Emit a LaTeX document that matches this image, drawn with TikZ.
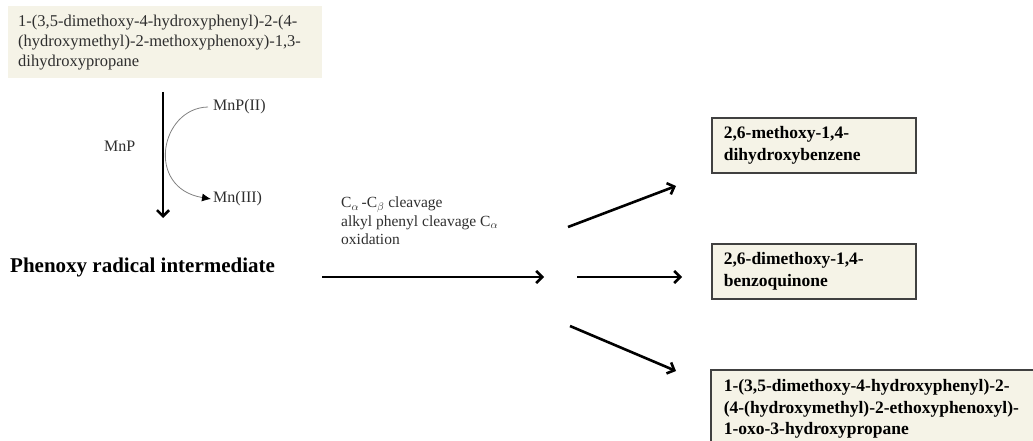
\documentclass[tikz,border=0pt]{standalone}
\usepackage{fontspec}
\setmainfont{Liberation Serif}
\usetikzlibrary{arrows.meta}

\definecolor{boxfill}{HTML}{F5F3E7}
\definecolor{labgray}{HTML}{2E2E2E}

\tikzset{
  prodbox/.style={draw=black!75, line width=1.6pt, fill=boxfill, anchor=north west,
    align=left, text width=180pt, inner xsep=12pt, inner ysep=9pt,
    font=\fontsize{17.5}{21.5}\selectfont\bfseries},
  mainarrow/.style={line width=2.6pt, -{Straight Barb[length=6pt,width=12pt]}},
  enzlabel/.style={anchor=west, inner sep=0pt, font=\fontsize{16}{19}\selectfont, text=labgray}
}

\begin{document}
\begin{tikzpicture}[x=1pt,y=-1pt]
  \clip (0,0) rectangle (1033,441);

  % substrate
  \node[fill=boxfill, anchor=north west, align=left, text width=294pt, inner xsep=10pt,
        inner ysep=6pt, minimum height=72pt, font=\fontsize{16.5}{20}\selectfont, text=labgray]
    (src) at (8,6) {1-(3,5-dimethoxy-4-hydroxyphenyl)-2-(4-\\(hydroxymethyl)-2-methoxyphenoxy)-1,3-\\dihydroxypropane};

  % MnP step
  \coordinate (vtop) at (163,92);
  \coordinate (vbot) at (163,218);
  \draw[mainarrow] (vtop) -- (vbot);
  \node[enzlabel] (mnp) at (104,146) {MnP};
  \node[enzlabel] (mnpii) at (213,107) {MnP(II)};
  \node[enzlabel] (mniii) at (213,199) {Mn(III)};
  \draw[gray, line width=0.8pt, -{Latex[black,length=9pt,width=8pt]}]
    ([xshift=-5pt]mnpii.west) .. controls (160,108) and (145,188) .. ([xshift=-2pt]mniii.west);

  \node[anchor=west, inner sep=0pt, font=\fontsize{21}{24}\selectfont\bfseries] (phenoxy) at (10,267)
    {Phenoxy radical intermediate};

  % cleavage
  \node[anchor=north west, align=left, inner sep=0pt, text=labgray,
        font=\fontsize{15.5}{18.5}\selectfont] (cleave) at (341,197)
    {C$_\alpha$\,-C$_\beta$ cleavage\\alkyl phenyl cleavage C$_\alpha$\\oxidation};
  \coordinate (hstart) at (322,277);
  \coordinate (hend) at (544,277);
  \draw[mainarrow] (hstart) -- (hend);

  % products
  \node[prodbox] (dhb) at (711,117) {2,6-methoxy-1,4-\\dihydroxybenzene};
  \node[prodbox] (dmbq) at (711,243) {2,6-dimethoxy-1,4-\\benzoquinone};
  % third box runs past the frame edge
  \draw[draw=black!75, line width=1.6pt, fill=boxfill] (711,370) rectangle (1045,455);
  \node[prodbox, draw=none, fill=none, text width=330pt] (oxo) at (711,370)
    {1-(3,5-dimethoxy-4-hydroxyphenyl)-2-\\(4-(hydroxymethyl)-2-ethoxyphenoxyl)-\\1-oxo-3-hydroxypropane};

  \coordinate (b1) at (568,227);
  \coordinate (b2) at (577,277);
  \coordinate (b3) at (570,326);
  \draw[mainarrow] (b1) -- (676,186);
  \draw[mainarrow] (b2) -- (682,277);
  \draw[mainarrow] (b3) -- (676,371);
\end{tikzpicture}
\end{document}
